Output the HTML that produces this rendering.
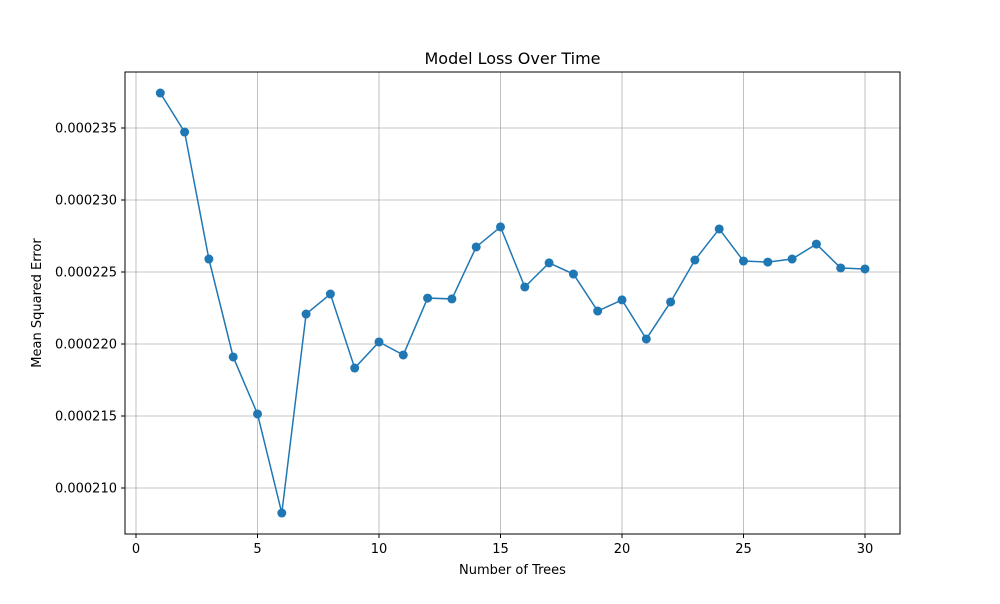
<!DOCTYPE html>
<html><head><meta charset="utf-8"><style>
body{margin:0;background:#fff;font-family:"DejaVu Sans","Liberation Sans",sans-serif;}
svg text{font-family:"DejaVu Sans","Liberation Sans",sans-serif;fill:#000;}
</style></head><body>
<svg id="chart" width="1000" height="600" xmlns="http://www.w3.org/2000/svg">
<rect width="1000" height="600" fill="#fff"/>
<g id="grid"></g>
<g id="ticks"></g>
<g id="series"></g>
<rect x="125" y="72" width="775" height="462" fill="none" stroke="#000" stroke-width="1"/>
<text x="512.5" y="64" text-anchor="middle" font-size="16">Model Loss Over Time</text>
<text x="512.5" y="574" text-anchor="middle" font-size="13">Number of Trees</text>
<text transform="translate(41,303) rotate(-90)" text-anchor="middle" font-size="13">Mean Squared Error</text>
</svg>
<script>
const xValues=[1,2,3,4,5,6,7,8,9,10,11,12,13,14,15,16,17,18,19,20,21,22,23,24,25,26,27,28,29,30];
const mseValues=[237.43,234.72,225.90,219.10,215.14,208.26,222.08,223.47,218.33,220.14,219.24,223.19,223.13,226.74,228.13,223.96,225.63,224.86,222.29,223.06,220.35,222.92,225.83,227.99,225.76,225.69,225.90,226.94,225.28,225.21].map(v=>v*1e-6);
const xTicks=[0,5,10,15,20,25,30];
const yTicks=[0.000210,0.000215,0.000220,0.000225,0.000230,0.000235];
const yTickLabels=["0.000210","0.000215","0.000220","0.000225","0.000230","0.000235"];
const NS="http://www.w3.org/2000/svg";
const sx=v=>136+v*(865-136)/30;
const sy=v=>488-(v-0.000210)*(488-128)/0.000025;
function mk(tag,attrs,parent){const e=document.createElementNS(NS,tag);for(const k in attrs)e.setAttribute(k,attrs[k]);parent.appendChild(e);return e;}
const grid=document.getElementById('grid'),ticks=document.getElementById('ticks'),series=document.getElementById('series');
xTicks.forEach(t=>{const x=sx(t);
 const g=mk('line',{x1:x,x2:x,y1:72,y2:534,stroke:'#b0b0b0','stroke-width':0.8},grid);
 
 
 mk('line',{x1:x,x2:x,y1:534,y2:538,stroke:'#000'},ticks);
 const tx=mk('text',{x:x,y:553,'text-anchor':'middle','font-size':13},ticks);tx.textContent=t;
 
 
});
yTicks.forEach((t,i)=>{const y=sy(t);
 const g=mk('line',{x1:125,x2:900,y1:y,y2:y,stroke:'#b0b0b0','stroke-width':0.8},grid);
 
 
 mk('line',{x1:121,x2:125,y1:y,y2:y,stroke:'#000'},ticks);
 const tx=mk('text',{x:117,y:y+4.5,'text-anchor':'end','font-size':13},ticks);tx.textContent=yTickLabels[i];
 
 
});
const pts=xValues.map((x,i)=>sx(x)+','+sy(mseValues[i])).join(' ');
const pl=mk('polyline',{points:pts,fill:'none',stroke:'#1f77b4','stroke-width':1.5},series);


xValues.forEach((x,i)=>{const c=mk('circle',{cx:sx(x),cy:sy(mseValues[i]),r:4.5,fill:'#1f77b4'},series);
 
 
});
</script>
</body></html>
